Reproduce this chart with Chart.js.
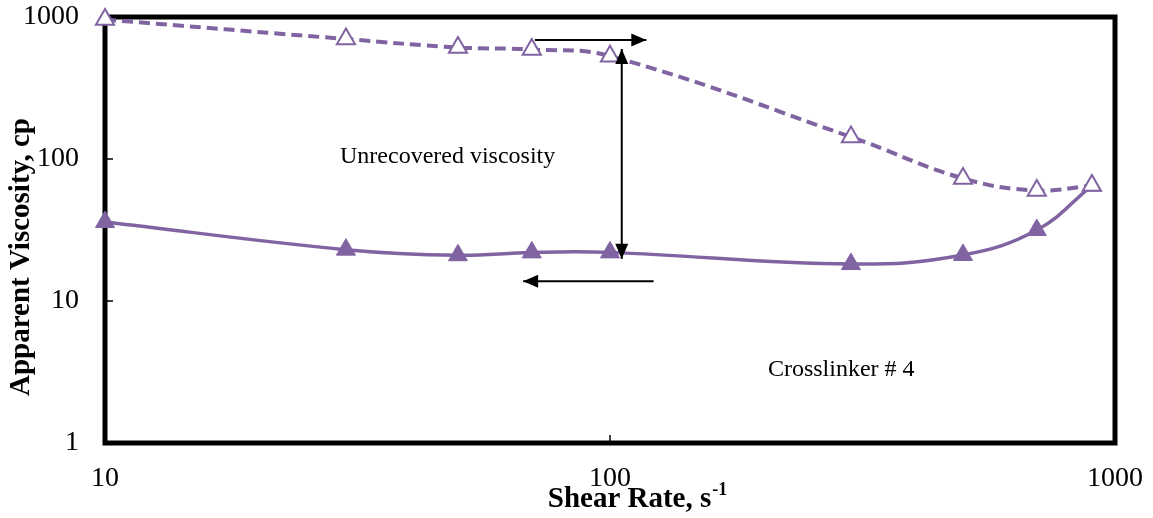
<html>
<head>
<title>Apparent Viscosity vs Shear Rate</title>
<style>
  body { margin: 0; background: #fff; }
  #wrap { width: 1153px; height: 518px; position: relative; }
</style>
</head>
<body>
<div id="wrap"><canvas id="visc-chart"></canvas></div>
<script src="https://cdn.jsdelivr.net/npm/chart.js"></script>
<script>
// data
const shearRates = [10, 30, 50, 70, 100, 300, 500, 700, 900];
const upperVisc = [960, 700, 610, 590, 530, 143, 73, 60, 65];   // dashed, open triangles
const lowerVisc = [36, 23, 21, 22, 22, 18.2, 21.1, 31.6, 65];   // solid, filled triangles
const xTicks = [10, 100, 1000];
const yTicks = [1, 10, 100, 1000];

// annotations, in data units
const arrows = [
  { from: [71, 688], to: [118, 688] },
  { from: [67.3, 13.8], to: [122, 13.8], reverse: true },
  { from: [105.5, 596], to: [105.5, 19.8], both: true }
];
const notes = [
  { text: "Unrecovered viscosity", at: [47.7, 103] },
  { text: "Crosslinker # 4", at: [287, 3.27] }
];

const purple = "#8064A2";
const serif = "'Liberation Serif', 'Times New Roman', serif";

function head(c, x1, y1, x2, y2) {
  // tip at x2,y2
  const a = Math.atan2(y2 - y1, x2 - x1);
  const len = 15, w = 6.5;
  c.beginPath();
  c.moveTo(x2, y2);
  c.lineTo(x2 - len * Math.cos(a) + w * Math.sin(a), y2 - len * Math.sin(a) - w * Math.cos(a));
  c.lineTo(x2 - len * Math.cos(a) - w * Math.sin(a), y2 - len * Math.sin(a) + w * Math.cos(a));
  c.closePath();
  c.fill();
}

function noPad(s) {
  s.paddingTop = 0; s.paddingBottom = 0;
  s.paddingLeft = 0; s.paddingRight = 0;
}

const framePlugin = {
  id: "frame",
  beforeDatasetsDraw(chart) {
    const c = chart.ctx, a = chart.chartArea;
    const xs = chart.scales.x, ys = chart.scales.y;
    c.save();
    c.strokeStyle = "#000";
    c.lineWidth = 5;
    c.strokeRect(a.left, a.top, a.right - a.left, a.bottom - a.top);
    // inside tick marks
    c.lineWidth = 1.5;
    c.beginPath();
    yTicks.forEach(v => {
      const y = ys.getPixelForValue(v);
      c.moveTo(a.left, y); c.lineTo(a.left + 8, y);
    });
    xTicks.forEach(v => {
      const x = xs.getPixelForValue(v);
      c.moveTo(x, a.bottom); c.lineTo(x, a.bottom - 8);
    });
    c.stroke();
    c.restore();
  },
  afterDatasetsDraw(chart) {
    const c = chart.ctx;
    const xs = chart.scales.x, ys = chart.scales.y;
    c.save();
    c.strokeStyle = "#000";
    c.fillStyle = "#000";
    c.lineWidth = 2;
    arrows.forEach(ar => {
      const x1 = xs.getPixelForValue(ar.from[0]), y1 = ys.getPixelForValue(ar.from[1]);
      const x2 = xs.getPixelForValue(ar.to[0]), y2 = ys.getPixelForValue(ar.to[1]);
      c.beginPath(); c.moveTo(x1, y1); c.lineTo(x2, y2); c.stroke();
      if (ar.reverse) head(c, x2, y2, x1, y1);
      else head(c, x1, y1, x2, y2);
      if (ar.both) head(c, x2, y2, x1, y1);
    });
    c.font = "24px " + serif;
    c.textAlign = "center";
    c.textBaseline = "middle";
    notes.forEach(n => {
      c.fillText(n.text, xs.getPixelForValue(n.at[0]), ys.getPixelForValue(n.at[1]));
    });
    c.restore();
  },
  afterDraw(chart) {
    const c = chart.ctx;
    c.save();
    c.fillStyle = "#000";
    // x title with superscript
    c.font = "bold 29px " + serif;
    const main = "Shear Rate, s";
    const w1 = c.measureText(main).width;
    c.font = "bold 18px " + serif;
    const w2 = c.measureText("-1").width;
    let left = 637 - (w1 + w2) / 2;
    c.textBaseline = "alphabetic";
    c.textAlign = "left";
    c.font = "bold 29px " + serif;
    c.fillText(main, left, 507);
    c.font = "bold 18px " + serif;
    c.fillText("-1", left + w1 + 1, 495);
    // y title
    c.translate(22, 257);
    c.rotate(-Math.PI / 2);
    c.font = "bold 29px " + serif;
    c.textAlign = "center";
    c.textBaseline = "middle";
    c.fillText("Apparent Viscosity, cp", 0, 0);
    c.restore();
  }
};

new Chart(document.getElementById("visc-chart"), {
  type: "line",
  data: {
    labels: shearRates,
    datasets: [
      {
        label: "Initial",
        data: shearRates.map((x, i) => ({ x: x, y: upperVisc[i] })),
        borderColor: purple,
        borderWidth: 4,
        borderDash: [11, 6],
        pointStyle: "triangle",
        pointRadius: 10.5,
        pointBorderWidth: 2,
        pointBackgroundColor: "#fff",
        pointBorderColor: purple,
        tension: 0.4,
        clip: false
      },
      {
        label: "Recovered",
        data: shearRates.map((x, i) => ({ x: x, y: lowerVisc[i] })),
        borderColor: purple,
        borderWidth: 3.5,
        pointStyle: "triangle",
        pointRadius: 11,
        pointBorderWidth: 1,
        pointBackgroundColor: purple,
        pointBorderColor: purple,
        tension: 0.4,
        clip: false
      }
    ]
  },
  options: {
    responsive: true,
    maintainAspectRatio: false,
    animation: false,
    layout: { padding: { top: 17, right: 38, left: 0, bottom: 0 } },
    plugins: { legend: { display: false }, tooltip: { enabled: false } },
    scales: {
      x: {
        type: "logarithmic",
        min: 10,
        max: 1000,
        grid: { display: false, drawTicks: false },
        border: { display: false },
        afterBuildTicks: s => { s.ticks = xTicks.map(v => ({ value: v })); },
        afterFit: s => { s.height = 75; noPad(s); },
        ticks: {
          color: "#000",
          font: { family: serif, size: 28 },
          padding: 19,
          maxRotation: 0,
          callback: v => String(v)
        }
      },
      y: {
        type: "logarithmic",
        min: 1,
        max: 1000,
        grid: { display: false, drawTicks: false },
        border: { display: false },
        afterBuildTicks: s => { s.ticks = yTicks.map(v => ({ value: v })); },
        afterFit: s => { s.width = 105; noPad(s); },
        ticks: {
          color: "#000",
          font: { family: serif, size: 28 },
          padding: 26,
          callback: v => String(v)
        }
      }
    }
  },
  plugins: [framePlugin]
});
</script>
</body>
</html>
